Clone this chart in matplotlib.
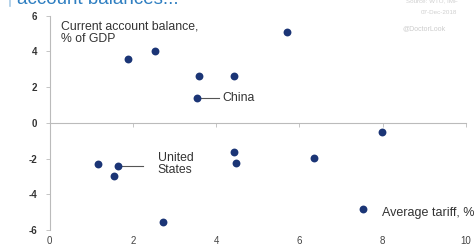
import matplotlib.pyplot as plt
from matplotlib.lines import Line2D

# average tariff (%) vs current account balance (% of GDP)
tariff = [1.88, 2.53, 3.60, 4.44, 5.70, 3.55, 7.99, 1.15, 1.64, 1.54, 2.72, 4.43, 4.49, 6.35, 7.53]
balance = [3.58, 4.00, 2.64, 2.64, 5.10, 1.37, -0.49, -2.32, -2.40, -2.98, -5.56, -1.65, -2.26, -1.95, -4.85]
xticks = [0, 2, 4, 6, 8, 10]
yticks = [-6, -4, -2, 0, 2, 4, 6]

china = (3.55, 1.37)
usa = (1.64, -2.40)

plt.rcParams['font.family'] = ['Liberation Sans', 'DejaVu Sans']

fig = plt.figure(figsize=(4.74, 2.45), dpi=100)
ax = fig.add_axes([0.1049, 0.0616, 0.8776, 0.8743])

ax.scatter(tariff, balance, s=32, color='#1b3576', zorder=3, linewidths=0)

ax.set_xlim(0, 10)
ax.set_ylim(-6, 6)
ax.set_xticks(xticks)
ax.set_yticks(yticks)
ax.set_xticklabels([str(t) for t in xticks], fontsize=7, color='#444444')
ax.set_yticklabels([str(t) for t in yticks], fontsize=7, color='#333333', fontweight='bold')

for s in ['top', 'right', 'bottom']:
    ax.spines[s].set_visible(False)
ax.spines['left'].set_color('#bbbbbb')
ax.spines['left'].set_linewidth(0.8)
ax.tick_params(axis='x', length=0, pad=4.5)
ax.tick_params(axis='y', length=3, width=0.6, color='#bbbbbb', pad=6)

# zero line with upward tick marks
zero = ax.secondary_xaxis(0.5)
zero.set_xticks(xticks)
zero.tick_params(direction='in', length=3, width=0.6, color='#bbbbbb', labelbottom=False, labeltop=False)
zero.spines['bottom'].set_color('#bbbbbb')
zero.spines['bottom'].set_linewidth(0.8)
zero.spines['top'].set_color('#bbbbbb')
zero.spines['top'].set_linewidth(0.8)

ax.text(0.27, 5.72, 'Current account balance,\n% of GDP', fontsize=8.8, color='#333333',
        va='top', ha='left', linespacing=1.05)
ax.text(10.22, -5.05, 'Average tariff, %', fontsize=9, color='#333333', ha='right', va='center')

ax.plot([china[0], china[0] + 0.52], [china[1], china[1]], color='#555555', lw=0.8, zorder=2)
ax.text(china[0] + 0.6, china[1], 'China', fontsize=8.8, color='#333333', va='center')

ax.plot([usa[0], usa[0] + 0.6], [usa[1], usa[1]], color='#555555', lw=0.8, zorder=2)
ax.text(2.6, usa[1] + 0.08, 'United\nStates', fontsize=8.8, color='#333333', va='center', linespacing=1.05)

# clipped title and source lines
fig.add_artist(Line2D([0.021, 0.021], [0.975, 1.0], color='#a8cbe6', lw=1.2))
fig.text(0.036, 0.984, 'account balances...', fontsize=13.5, color='#2f7fc1', va='baseline', ha='left')
fig.text(0.965, 0.995, 'Source: WTO, IMF', fontsize=4.5, color='#d0d0d0', ha='right', va='center')
fig.text(0.965, 0.950, '07-Dec-2018', fontsize=4.5, color='#d0d0d0', ha='right', va='center')
fig.text(0.94, 0.882, '@DoctorLook', fontsize=5, color='#cccccc', ha='right', va='center')

fig.savefig('out.png', dpi=100)
